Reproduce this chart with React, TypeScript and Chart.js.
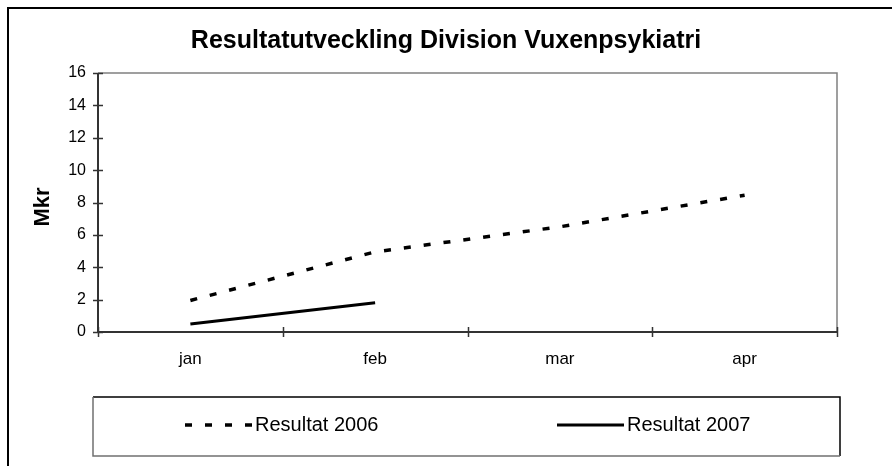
import React, { useEffect, useRef } from "react";
import { Chart, registerables } from "chart.js";

Chart.register(...registerables);

const TITLE = "Resultatutveckling Division Vuxenpsykiatri";
const Y_TITLE = "Mkr";
const CATEGORIES = ["jan", "feb", "mar", "apr"];
const LABEL_2006 = "Resultat 2006";
const LABEL_2007 = "Resultat 2007";
const VALUES_2006 = [1.95, 4.95, 6.5, 8.45];
const VALUES_2007 = [0.5, 1.8];
const Y_MIN = 0;
const Y_MAX = 16;
const Y_STEP = 2;

const FONT = "'Liberation Sans', Arial, sans-serif";

const decorPlugin = {
  id: "decor",
  beforeDraw(chart: any) {
    const ctx = chart.ctx;
    ctx.save();
    ctx.fillStyle = "#fff";
    ctx.fillRect(0, 0, chart.width, chart.height);
    // outer chart border (extends past the picture on right/bottom)
    ctx.strokeStyle = "#000";
    ctx.lineWidth = 2;
    ctx.strokeRect(8, 8, chart.width + 20, chart.height + 20);
    // title
    ctx.fillStyle = "#000";
    ctx.font = `bold 25px ${FONT}`;
    ctx.textAlign = "center";
    ctx.textBaseline = "alphabetic";
    ctx.fillText(TITLE, 446, 48);
    // y axis title
    ctx.save();
    ctx.translate(43, 207);
    ctx.rotate(-Math.PI / 2);
    ctx.font = `bold 22px ${FONT}`;
    ctx.textBaseline = "middle";
    ctx.fillText(Y_TITLE, 0, 0);
    ctx.restore();
    ctx.restore();
  },
  afterDraw(chart: any) {
    const ctx = chart.ctx;
    const ca = chart.chartArea;
    const xs = chart.scales.x;
    const ys = chart.scales.y;
    ctx.save();
    // plot area border top/right in gray
    ctx.strokeStyle = "#808080";
    ctx.lineWidth = 1.5;
    ctx.beginPath();
    ctx.moveTo(ca.left, ca.top);
    ctx.lineTo(ca.right, ca.top);
    ctx.lineTo(ca.right, ca.bottom);
    ctx.stroke();
    // axes
    ctx.strokeStyle = "#333";
    ctx.lineWidth = 2;
    ctx.beginPath();
    ctx.moveTo(ca.left, ca.top);
    ctx.lineTo(ca.left, ca.bottom);
    ctx.lineTo(ca.right, ca.bottom);
    ctx.stroke();
    // crossing tick marks
    ctx.lineWidth = 1.5;
    ctx.beginPath();
    for (let v = Y_MIN; v <= Y_MAX; v += Y_STEP) {
      const y = Math.round(ys.getPixelForValue(v)) + 0.5;
      ctx.moveTo(ca.left - 5, y);
      ctx.lineTo(ca.left + 5, y);
    }
    for (let i = 0; i <= CATEGORIES.length; i++) {
      const x = Math.round(xs.getPixelForValue(i - 0.5)) + 0.5;
      ctx.moveTo(x, ca.bottom - 5);
      ctx.lineTo(x, ca.bottom + 5);
    }
    ctx.stroke();

    // legend box
    const lx = 93, ly = 397, lw = 747, lh = 59;
    ctx.lineWidth = 1.5;
    ctx.strokeStyle = "#000";
    ctx.beginPath();
    ctx.moveTo(lx, ly);
    ctx.lineTo(lx + lw, ly);
    ctx.lineTo(lx + lw, ly + lh);
    ctx.stroke();
    ctx.strokeStyle = "#707070";
    ctx.beginPath();
    ctx.moveTo(lx + lw, ly + lh);
    ctx.lineTo(lx, ly + lh);
    ctx.lineTo(lx, ly);
    ctx.stroke();

    const items = [
      { ds: chart.data.datasets[0], x0: 185, x1: 252, tx: 255 },
      { ds: chart.data.datasets[1], x0: 557, x1: 624, tx: 627 },
    ];
    const cy = 425;
    items.forEach((it) => {
      ctx.save();
      ctx.strokeStyle = it.ds.borderColor;
      ctx.lineWidth = it.ds.borderWidth;
      ctx.setLineDash(it.ds.borderDash || []);
      ctx.beginPath();
      ctx.moveTo(it.x0, cy);
      ctx.lineTo(it.x1, cy);
      ctx.stroke();
      ctx.restore();
      ctx.fillStyle = "#000";
      ctx.font = `20px ${FONT}`;
      ctx.textAlign = "left";
      ctx.textBaseline = "alphabetic";
      ctx.fillText(it.ds.label, it.tx, 431);
    });
    ctx.restore();
  },
};

export default function App() {
  const ref = useRef<HTMLCanvasElement | null>(null);
  useEffect(() => {
    if (!ref.current) return;
    const chart = new Chart(ref.current, {
      type: "line",
      data: {
        labels: CATEGORIES,
        datasets: [
          {
            label: LABEL_2006,
            data: VALUES_2006,
            borderColor: "#000",
            borderWidth: 3.5,
            borderDash: [7, 13],
            borderCapStyle: "butt",
            pointRadius: 0,
            tension: 0,
            fill: false,
          },
          {
            label: LABEL_2007,
            data: VALUES_2007,
            borderColor: "#000",
            borderWidth: 3,
            pointRadius: 0,
            tension: 0,
            fill: false,
          },
        ],
      },
      options: {
        responsive: false,
        animation: false,
        devicePixelRatio: 1,
        layout: { padding: { left: 0, top: 73, right: 55, bottom: 0 } },
        plugins: {
          legend: { display: false },
          title: { display: false },
          tooltip: { enabled: false },
        },
        scales: {
          x: {
            type: "category",
            offset: true,
            grid: { display: false, drawTicks: false },
            border: { display: false },
            ticks: {
              color: "#000",
              font: { family: FONT, size: 17 },
              padding: 17,
              maxRotation: 0,
            },
            afterFit: (s: any) => {
              s.height = 134;
            },
          },
          y: {
            min: Y_MIN,
            max: Y_MAX,
            grid: { display: false, drawTicks: false },
            border: { display: false },
            ticks: {
              stepSize: Y_STEP,
              color: "#000",
              font: { family: FONT, size: 16 },
              padding: 12,
            },
            afterFit: (s: any) => {
              s.width = 98;
            },
          },
        },
      },
      plugins: [decorPlugin],
    });
    return () => chart.destroy();
  }, []);
  return (
    <div style={{ position: "fixed", left: 0, top: 0, width: 892, height: 466, background: "#fff" }}>
      <canvas ref={ref} width={892} height={466} style={{ display: "block", width: 892, height: 466 }} />
    </div>
  );
}
